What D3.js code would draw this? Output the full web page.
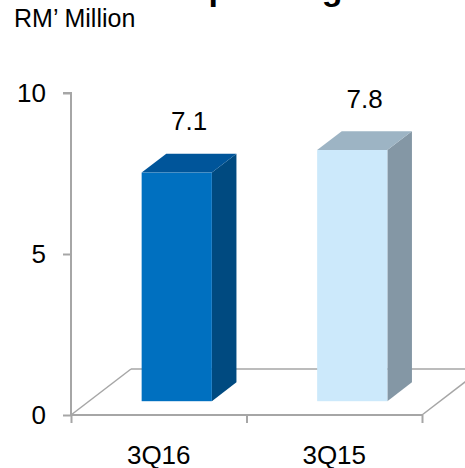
<!DOCTYPE html>
<html>
<head>
<meta charset="utf-8">
<script src="https://cdn.jsdelivr.net/npm/d3@7"></script>
<style>
  html, body { margin: 0; padding: 0; background: #fff; }
  svg { display: block; font-family: "Liberation Sans", Arial, sans-serif; }
</style>
</head>
<body>
<div id="chart"></div>
<script>
// Operating profit, RM' Million
const categories = ['3Q16', '3Q15'];
const values = [7.1, 7.8];
const yTicks = [0, 5, 10];

const W = 465, H = 468;

const frontColors = ['#0070C0', '#CCE9FB'];
const topColors = ['#00559A', '#9DB4C4'];
const sideColors = ['#004A80', '#8497A5'];

const svg = d3.select('#chart').append('svg')
  .attr('width', W)
  .attr('height', H);

const plotLeft = 71, plotRight = 422, plotBottom = 415, plotTop = 93;

const y = d3.scaleLinear().domain([0, 10]).range([plotBottom, plotTop]);
const x = d3.scaleBand().domain(categories).range([plotLeft, plotRight]);
const xi = d3.scaleLinear().domain([0, categories.length]).range([plotLeft, plotRight]);

// depth of the floor and of the bars (oblique projection)
const floorD = { dx: 60, dy: -46 };
const barFront = 0.3, barBack = 0.71;
const barW = x.bandwidth() * 0.4;

const grey = '#A6A6A6';

// floor outline
const floor = svg.append('g')
  .attr('fill', 'none')
  .attr('stroke', grey)
  .attr('stroke-width', 1.5);
floor.append('line')
  .attr('x1', plotLeft).attr('y1', plotBottom)
  .attr('x2', plotLeft + floorD.dx).attr('y2', plotBottom + floorD.dy);
floor.append('line')
  .attr('x1', plotLeft + floorD.dx).attr('y1', plotBottom + floorD.dy)
  .attr('x2', plotRight + floorD.dx).attr('y2', plotBottom + floorD.dy);
floor.append('line')
  .attr('x1', plotRight).attr('y1', plotBottom)
  .attr('x2', plotRight + floorD.dx).attr('y2', plotBottom + floorD.dy);

// bars
const bars = svg.append('g')
  .selectAll('g')
  .data(values.map((v, i) => ({ v, i, cat: categories[i] })))
  .join('g');

function pt(px, py) { return px + ',' + py; }

bars.each(function(d) {
  const g = d3.select(this);
  const fx = x(d.cat) + (x.bandwidth() - barW) / 2 + floorD.dx * barFront;
  const fy0 = y(0) + floorD.dy * barFront;
  const fy1 = y(d.v) + floorD.dy * barFront;
  const ddx = floorD.dx * (barBack - barFront);
  const ddy = floorD.dy * (barBack - barFront);

  // side
  g.append('polygon')
    .attr('points', [pt(fx + barW, fy1), pt(fx + barW + ddx, fy1 + ddy),
      pt(fx + barW + ddx, fy0 + ddy), pt(fx + barW, fy0)].join(' '))
    .attr('fill', sideColors[d.i]);
  // top
  g.append('polygon')
    .attr('points', [pt(fx, fy1), pt(fx + ddx, fy1 + ddy),
      pt(fx + barW + ddx, fy1 + ddy), pt(fx + barW, fy1)].join(' '))
    .attr('fill', topColors[d.i]);
  // front
  g.append('rect')
    .attr('x', fx)
    .attr('y', fy1)
    .attr('width', barW)
    .attr('height', fy0 - fy1)
    .attr('fill', frontColors[d.i]);

  // value label
  g.append('text')
    .attr('x', fx + barW / 2 + ddx / 2)
    .attr('y', y(d.v) - 56)
    .attr('text-anchor', 'middle')
    .attr('font-size', 26)
    .attr('fill', '#000')
    .text(d.v.toFixed(1));
});

// y axis
const yAxis = svg.append('g')
  .attr('transform', `translate(${plotLeft},0)`)
  .call(d3.axisLeft(y).tickValues(yTicks).tickSize(8).tickPadding(17));
yAxis.select('.domain').attr('stroke', grey).attr('stroke-width', 2)
  .attr('d', `M-8,${plotTop}H0V${plotBottom}`);
yAxis.selectAll('.tick line').attr('stroke', grey).attr('stroke-width', 2);
yAxis.selectAll('.tick text')
  .attr('font-size', 26)
  .attr('font-family', '"Liberation Sans", Arial, sans-serif')
  .attr('fill', '#000');

// x axis (ticks at category boundaries)
const xAxis = svg.append('g')
  .attr('transform', `translate(0,${plotBottom})`)
  .call(d3.axisBottom(xi).ticks(categories.length).tickSize(8).tickFormat(''));
xAxis.select('.domain').attr('stroke', grey).attr('stroke-width', 2)
  .attr('d', `M${plotLeft},0H${plotRight}`);
xAxis.selectAll('.tick line').attr('stroke', grey).attr('stroke-width', 2);

svg.append('g')
  .selectAll('text')
  .data(categories)
  .join('text')
  .attr('x', d => x(d) + x.bandwidth() / 2)
  .attr('y', 464)
  .attr('text-anchor', 'middle')
  .attr('font-size', 26)
  .attr('fill', '#000')
  .text(d => d);

// unit label and (cropped) title
svg.append('text')
  .attr('x', 14)
  .attr('y', 27)
  .attr('font-size', 25)
  .attr('fill', '#000')
  .text('RM\u2019 Million');

svg.append('text')
  .attr('x', 182)
  .attr('y', 0)
  .attr('font-size', 34)
  .attr('font-weight', 'bold')
  .attr('fill', '#000')
  .text('Operating Profit');
</script>
</body>
</html>
